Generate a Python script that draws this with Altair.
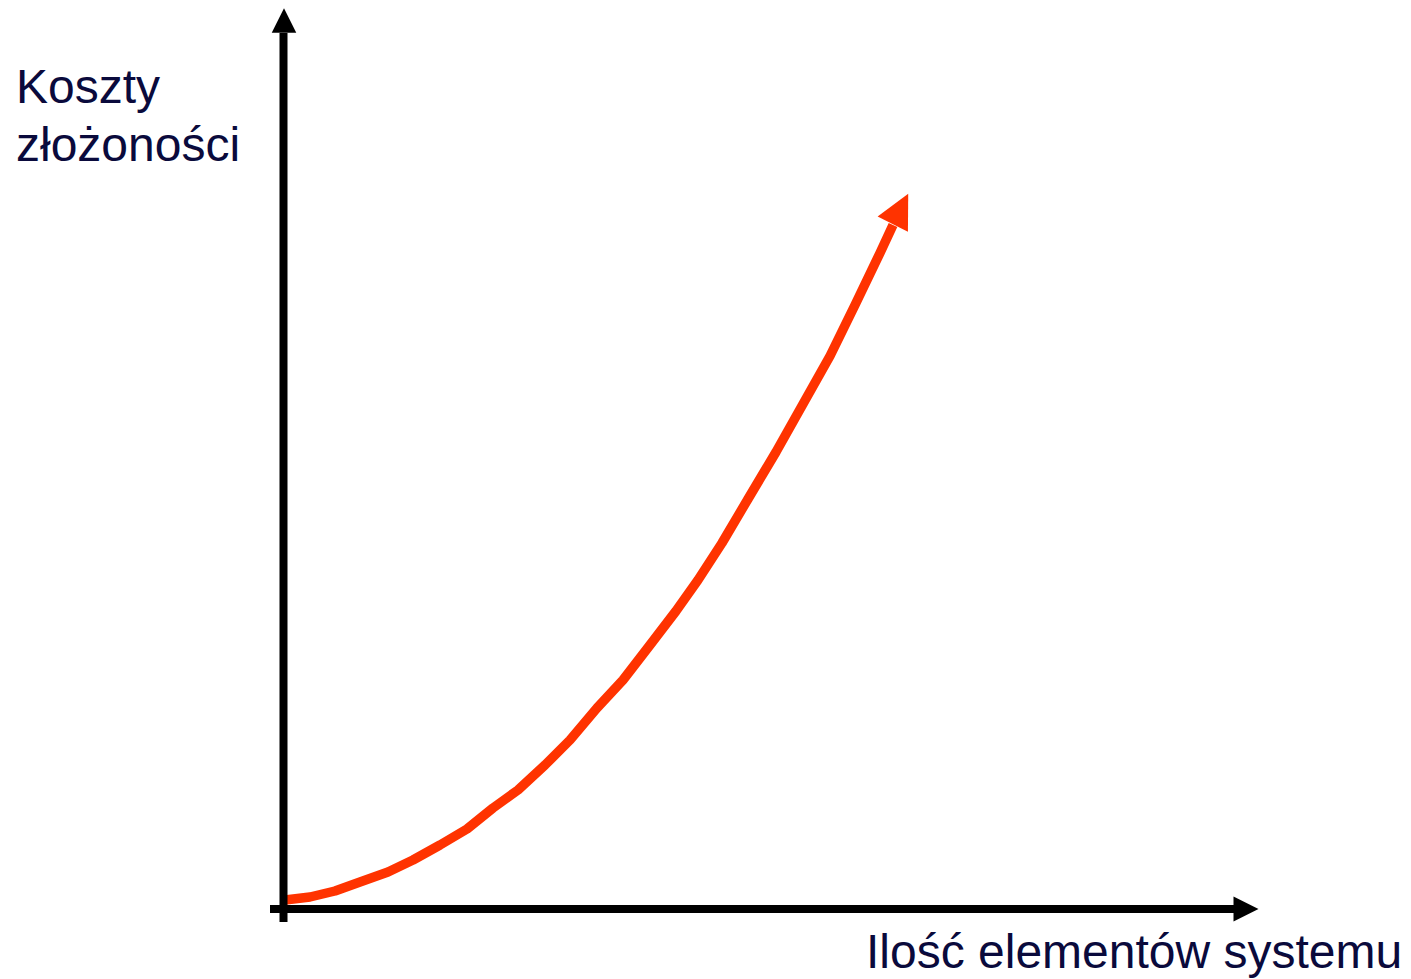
import altair as alt
import pandas as pd

# Curve values (x = elements, y = cost), in chart units (origin at axes crossing)
curve_x = [1, 26, 51, 76, 104, 129, 156, 183, 209, 234, 261, 286, 313, 339,
           366, 392, 414, 438, 464, 492, 519, 546, 571, 596, 609]
curve_y = [9, 12, 18, 27, 37, 49, 64, 80, 101, 119, 144, 169, 201, 229,
           264, 298, 329, 366, 410, 457, 505, 553, 604, 656, 684]

y_title = ["Koszty", "złożoności"]
x_title = "Ilość elementów systemu"

W, H = 1395, 962
XDOM = [-276, 1119]
YDOM = [-64, 898]

RED = "#ff3300"
NAVY = "#0a0a3c"
FONT = "Liberation Sans"

xs = alt.Scale(domain=XDOM, nice=False, zero=False)
ys = alt.Scale(domain=YDOM, nice=False, zero=False)

curve_df = pd.DataFrame({"x": curve_x, "y": curve_y})
curve = alt.Chart(curve_df).mark_line(
    color=RED, strokeWidth=9.5, strokeJoin="round", strokeCap="butt"
).encode(
    x=alt.X("x:Q", scale=xs, axis=None),
    y=alt.Y("y:Q", scale=ys, axis=None),
    order="x:Q",
)

arrow_path = "M0,-1L-1,1L1,1Z"

heads_df = pd.DataFrame({
    "x": [616.5, 0, 962],
    "y": [700, 888.5, 0],
    "angle": [27, 0, 90],
    "size": [1156, 600, 625],
    "c": [RED, "#000000", "#000000"],
})
heads = alt.Chart(heads_df).mark_point(
    shape=arrow_path, filled=True, opacity=1, strokeWidth=0
).encode(
    x=alt.X("x:Q", scale=xs, axis=None),
    y=alt.Y("y:Q", scale=ys, axis=None),
    angle=alt.Angle("angle:Q", scale=None),
    size=alt.Size("size:Q", scale=None),
    color=alt.Color("c:N", scale=None),
)

axes_df = pd.DataFrame({
    "x": [-0.5, -14],
    "x2": [-0.5, 951],
    "y": [-13, 0],
    "y2": [876, 0],
})
axes = alt.Chart(axes_df).mark_rule(color="black", strokeWidth=8).encode(
    x=alt.X("x:Q", scale=xs, axis=None),
    x2="x2:Q",
    y=alt.Y("y:Q", scale=ys, axis=None),
    y2="y2:Q",
)

ytitle_df = pd.DataFrame({"t": y_title, "py": [92, 150]})
ytext = alt.Chart(ytitle_df).mark_text(
    align="left", baseline="alphabetic", font=FONT, fontSize=48, color=NAVY
).encode(
    x=alt.value(8),
    y=alt.Y("py:Q", scale=None),
    text="t:N",
)

xtext = alt.Chart(pd.DataFrame({"t": [x_title]})).mark_text(
    align="left", baseline="alphabetic", font=FONT, fontSize=48, color=NAVY
).encode(
    x=alt.value(858),
    y=alt.value(957),
    text="t:N",
)

chart = alt.layer(curve, heads, axes, ytext, xtext).properties(
    width=W, height=H, padding=0
).configure_view(stroke=None)

chart.save("out.html", embed_options={"renderer": "svg", "actions": False})
